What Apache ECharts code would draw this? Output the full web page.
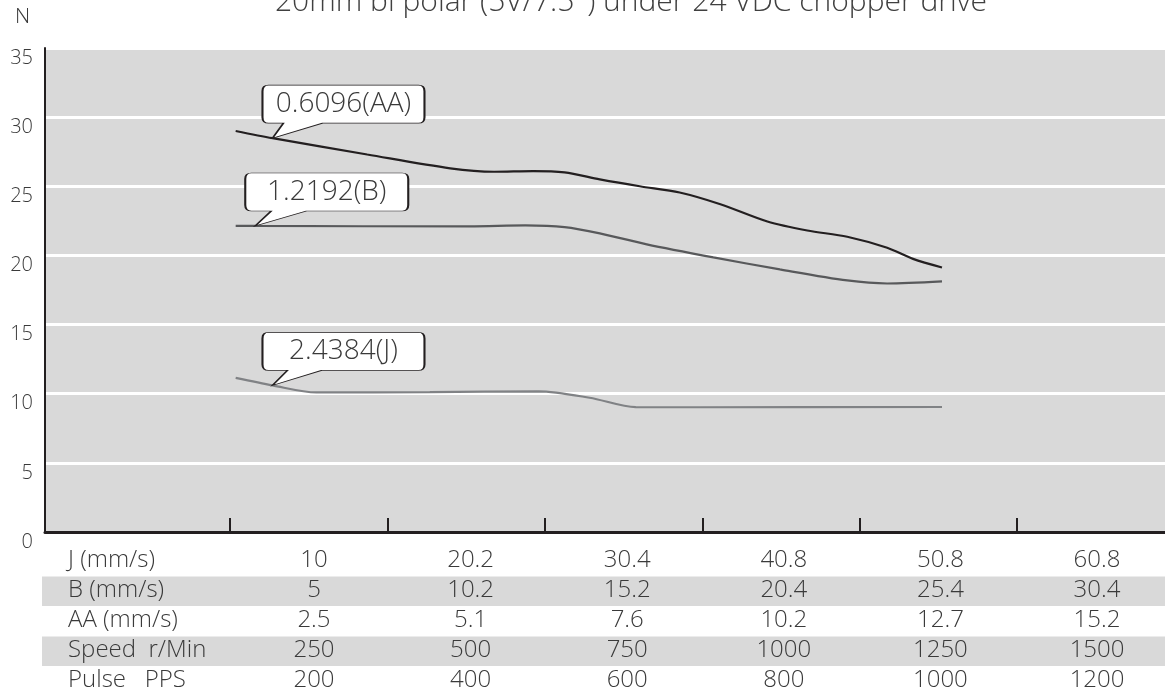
<!DOCTYPE html>
<html>
<head>
<meta charset="utf-8">
<script src="https://cdn.jsdelivr.net/npm/echarts@6/dist/echarts.min.js"></script>
<style>html,body{margin:0;padding:0;background:#fff}#c{width:1165px;height:698px}</style>
</head>
<body>
<div id="c"></div>
<script>
// ---- data ----
const titleText = '20mm bi polar (5V/7.5°) under 24 VDC chopper drive';
const yName = 'N';
const colPPS = [200, 400, 600, 800, 1000, 1200];
const rowNames = ['J (mm/s)', 'B (mm/s)', 'AA (mm/s)', 'Speed  r/Min', 'Pulse   PPS'];
const rowJ = ['10', '20.2', '30.4', '40.8', '50.8', '60.8'];
const rowB = ['5', '10.2', '15.2', '20.4', '25.4', '30.4'];
const rowAA = ['2.5', '5.1', '7.6', '10.2', '12.7', '15.2'];
const rowSpeed = ['250', '500', '750', '1000', '1250', '1500'];
const rowPulse = ['200', '400', '600', '800', '1000', '1200'];
const tickPPS = [93, 294, 495, 696, 897, 1098];

const aaX = [100, 147, 268, 374, 430, 480, 520, 565, 616, 667, 719, 779, 830, 881, 932, 965, 1002];
const aaY = [29.0, 28.48, 27.3, 26.3, 26.05, 26.1, 26.0, 25.5, 25.0, 24.55, 23.7, 22.45, 21.8, 21.35, 20.55, 19.75, 19.13];
const bX = [100, 125, 399, 470, 520, 565, 625, 710, 795, 881, 932, 1002];
const bY = [22.14, 22.13, 22.10, 22.17, 22.05, 21.6, 20.8, 19.86, 18.99, 18.19, 17.97, 18.12];
const jX = [100, 147, 203, 348, 487, 552, 611, 693, 1002];
const jY = [11.14, 10.60, 10.09, 10.12, 10.17, 9.71, 9.03, 9.02, 9.04];
const calloutAA = '0.6096(AA)';
const calloutB = '1.2192(B)';
const calloutJ = '2.4384(J)';

// ---- chart ----
const FONT = 'Open Sans';
const TXT = '#3a3a3a';
const pairs = (xs, ys) => xs.map((x, i) => [x, ys[i]]);
const aaData = pairs(aaX, aaY), bData = pairs(bX, bY), jData = pairs(jX, jY);
const rows = [rowJ, rowB, rowAA, rowSpeed, rowPulse];
const X_MIN = -143.5, X_MAX = 1286.8;
const ROW_H = 30;
const ROW0 = 560.5;

function callout(tip, text, w, tailA, tailB) {
  const h = 38, r = 6, th = 53, tipX = 10;
  const path = 'path://M' + r + ',0 H' + (w - r) + ' Q' + w + ',0 ' + w + ',' + r +
    ' V' + (h - r) + ' Q' + w + ',' + h + ' ' + (w - r) + ',' + h +
    ' H' + tailB + ' L' + tipX + ',' + th + ' L' + tailA + ',' + h +
    ' H' + r + ' Q0,' + h + ' 0,' + (h - r) + ' V' + r + ' Q0,0 ' + r + ',0 Z';
  return {
    coord: tip,
    symbol: path,
    symbolSize: [w, th],
    symbolKeepAspect: false,
    symbolOffset: [w / 2 - tipX, -(th / 2)],
    itemStyle: { color: '#fff', borderColor: '#231f20', borderWidth: 1.2 },
    label: {
      show: true, position: 'inside', formatter: text,
      offset: [0, -(th - h) / 2],
      color: '#3a3a3a', fontSize: 28, fontFamily: FONT, fontWeight: 300
    }
  };
}

const xAxes = [{
  type: 'value', gridIndex: 0, position: 'bottom', min: X_MIN, max: X_MAX,
  axisLine: { show: true, onZero: false, lineStyle: { color: '#231f20', width: 3 } },
  axisTick: { show: true, inside: true, length: 14, customValues: tickPPS, lineStyle: { color: '#231f20', width: 2 } },
  axisLabel: { show: false },
  splitLine: { show: false }
}];
rows.forEach((row, k) => {
  xAxes.push({
    type: 'value', gridIndex: 0, position: 'bottom', offset: k * ROW_H,
    min: X_MIN, max: X_MAX,
    axisLine: { show: false }, axisTick: { show: false }, splitLine: { show: false },
    axisLabel: {
      show: true, margin: ROW0 - 532 - 12, customValues: colPPS,
      formatter: (v) => row[colPPS.indexOf(v)],
      color: TXT, fontSize: 24, fontFamily: FONT, fontWeight: 300
    }
  });
});

const graphics = [];
[1, 3].forEach(k => {
  graphics.push({
    type: 'rect', z: -10, silent: true,
    shape: { x: 42, y: ROW0 - ROW_H / 2 + k * ROW_H + 1, width: 1123, height: 29.5 },
    style: { fill: '#d9d9d9' }
  });
});
rowNames.forEach((name, k) => {
  graphics.push({
    type: 'text', z: 10, silent: true, x: 68, y: ROW0 + k * ROW_H,
    style: { text: name, fill: TXT, fontSize: 24, fontFamily: FONT, fontWeight: 300, verticalAlign: 'middle', align: 'left' }
  });
});
graphics.push({
  type: 'text', z: 10, silent: true, x: 15, y: 7,
  style: { text: yName, fill: TXT, fontSize: 21, fontFamily: FONT, fontWeight: 300 }
});

const chart = echarts.init(document.getElementById('c'), null, { renderer: 'canvas' });
chart.setOption({
  backgroundColor: '#fff',
  animation: false,
  title: {
    text: titleText, left: 270, top: -18,
    textStyle: { fontSize: 30, fontFamily: FONT, fontWeight: 300, color: '#404040' }
  },
  grid: { left: 45, right: 0, top: 48, bottom: 166, show: true, backgroundColor: '#d9d9d9', borderWidth: 0 },
  xAxis: xAxes,
  yAxis: {
    type: 'value', min: 0, max: 35, interval: 5,
    axisLine: { show: true, onZero: false, lineStyle: { color: '#231f20', width: 2 } },
    axisTick: { show: false },
    splitLine: { show: true, lineStyle: { color: '#ffffff', width: 3 } },
    axisLabel: { color: TXT, fontSize: 20, fontFamily: FONT, fontWeight: 300, margin: 12, verticalAlign: 'top' }
  },
  graphic: graphics,
  series: [
    {
      type: 'line', name: 'AA', data: aaData, xAxisIndex: 0, smooth: 0.3, showSymbol: false, symbol: 'none',
      lineStyle: { color: '#231f20', width: 2.2 }, z: 3,
      markPoint: { silent: true, animation: false, data: [callout(aaData[1], calloutAA, 162, 21, 60)] }
    },
    {
      type: 'line', name: 'B', data: bData, xAxisIndex: 0, smooth: 0.3, showSymbol: false, symbol: 'none',
      lineStyle: { color: '#58595b', width: 2.2 }, z: 3,
      markPoint: { silent: true, animation: false, data: [callout(bData[1], calloutB, 163, 26, 61)] }
    },
    {
      type: 'line', name: 'J', data: jData, xAxisIndex: 0, smooth: 0.3, showSymbol: false, symbol: 'none',
      lineStyle: { color: '#808285', width: 2.2 }, z: 3,
      markPoint: { silent: true, animation: false, data: [callout(jData[1], calloutJ, 162, 25, 59)] }
    }
  ]
});
</script>
</body>
</html>
